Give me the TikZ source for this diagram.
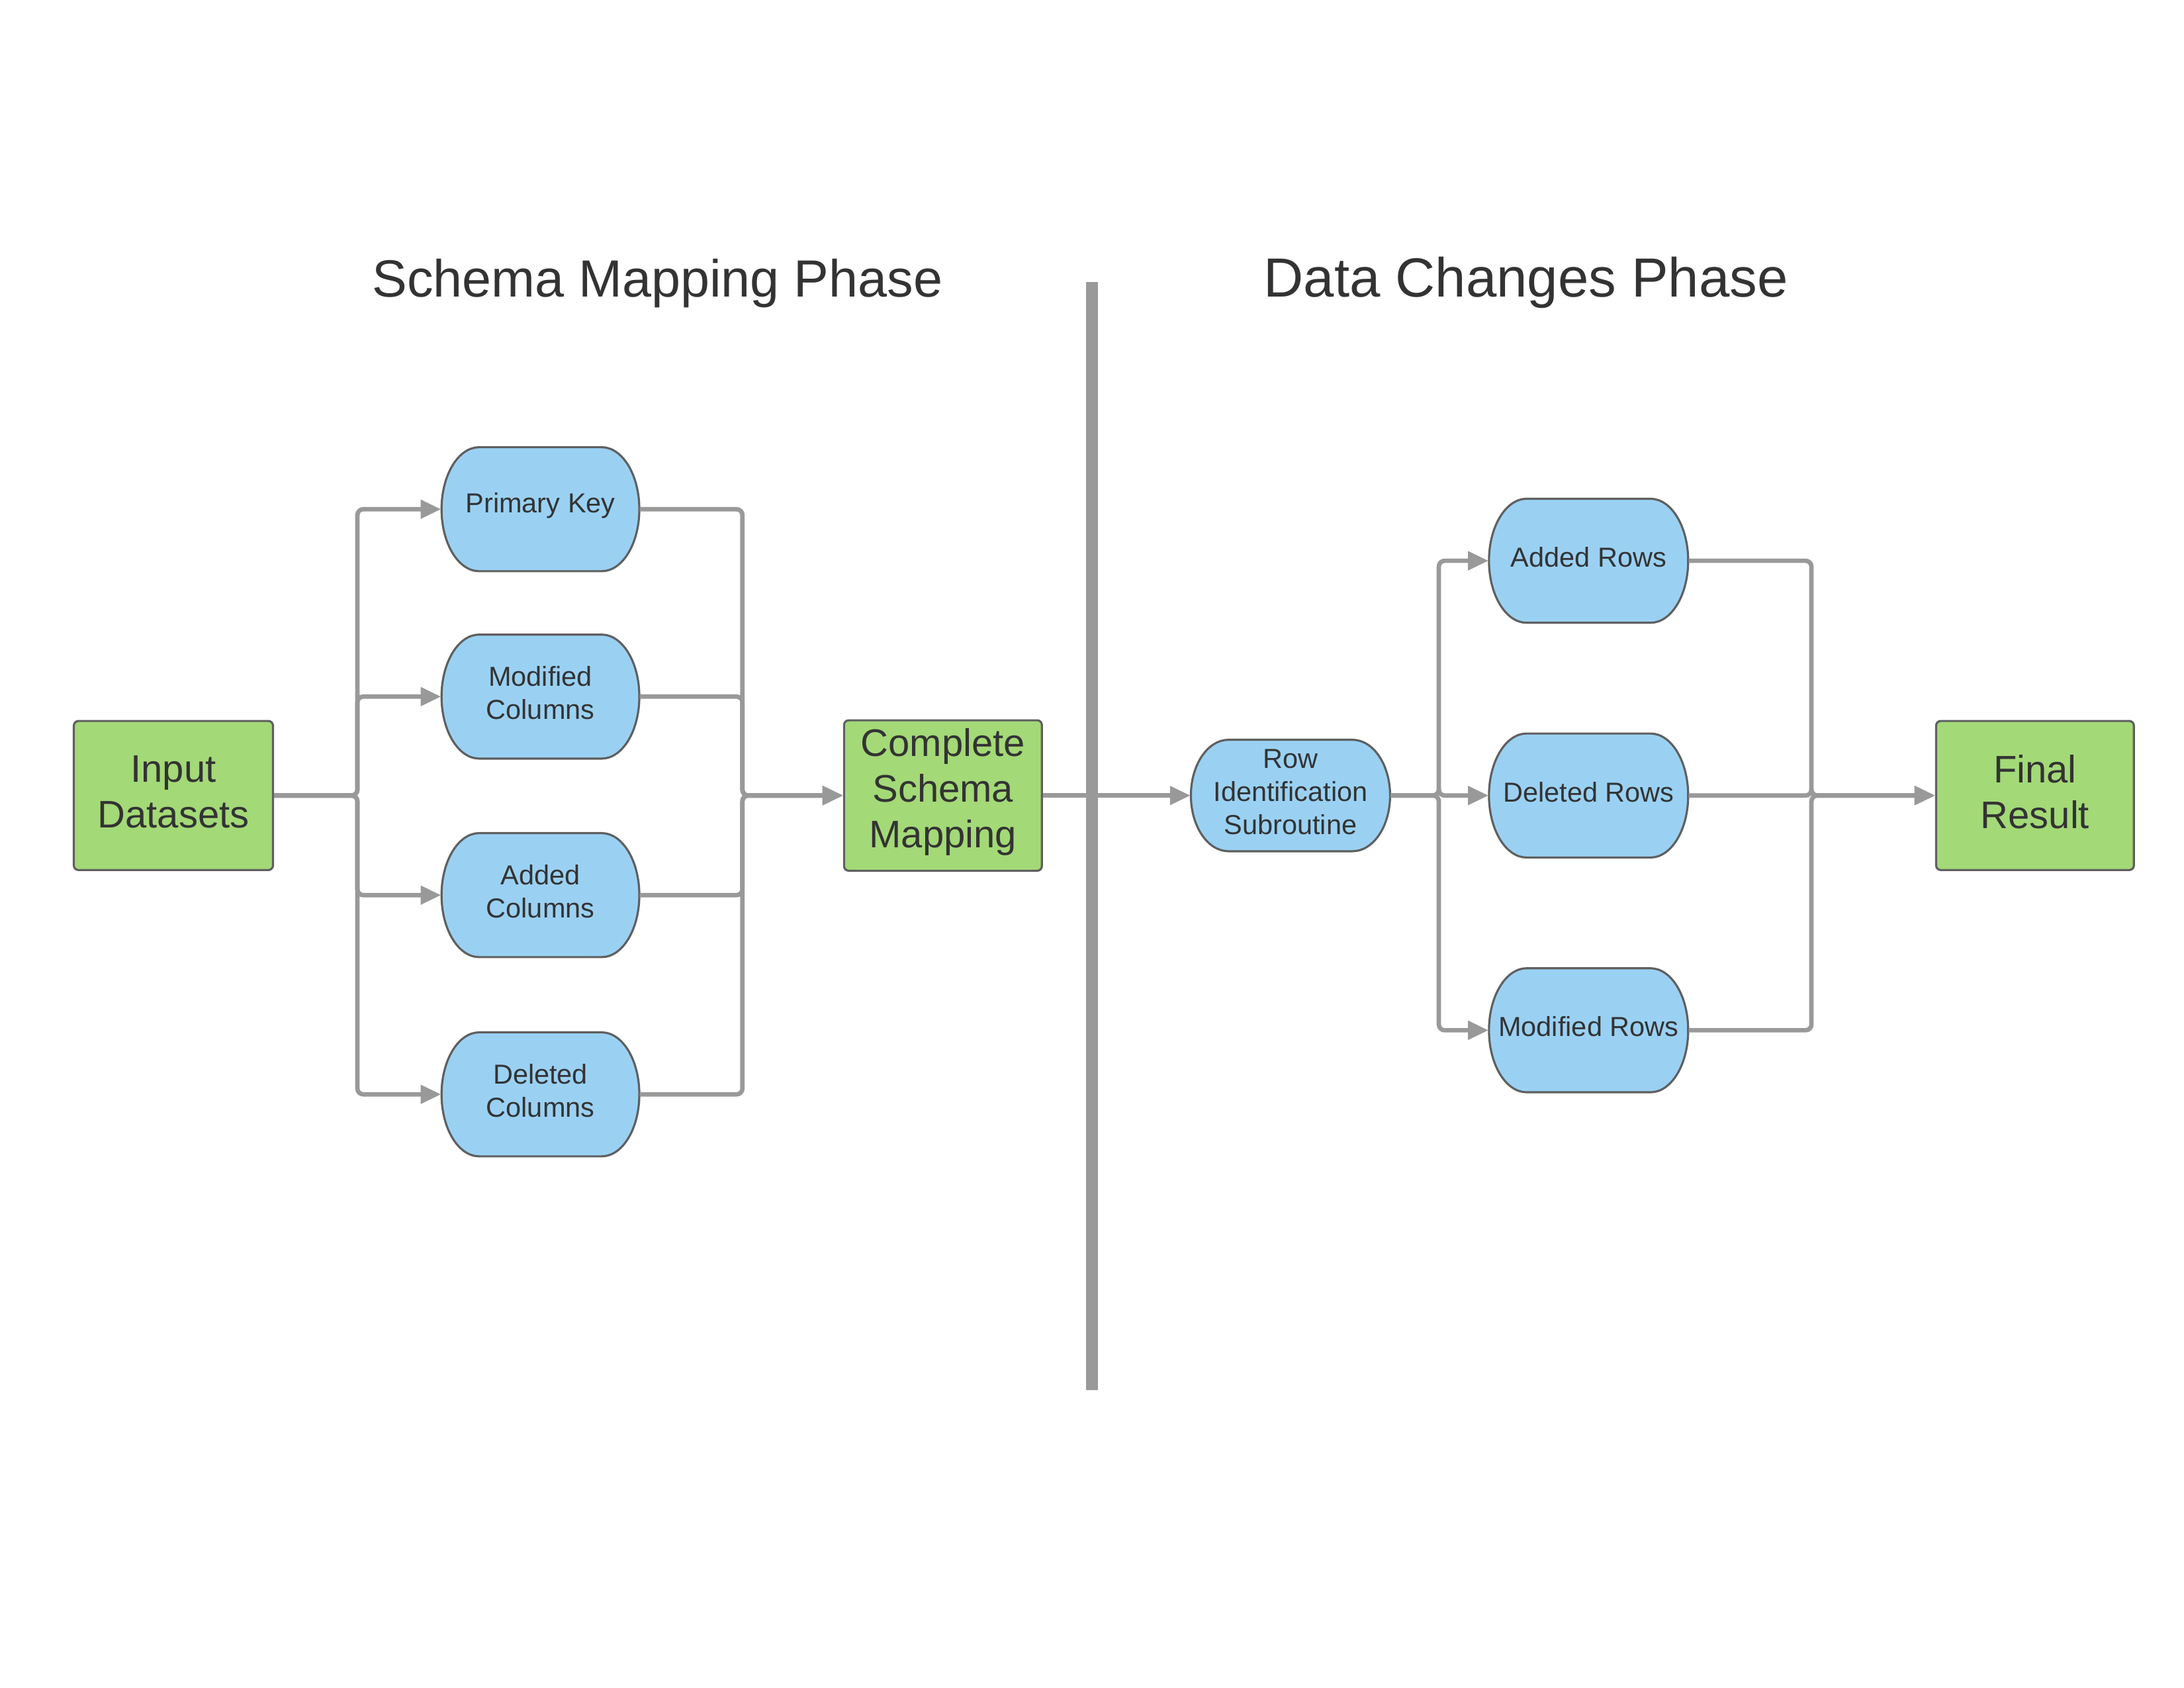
\documentclass[tikz,border=0pt]{standalone}
\usepackage{fontspec}
\setmainfont{Liberation Sans}
\usetikzlibrary{arrows.meta}
\definecolor{gfill}{HTML}{A3D977}
\definecolor{bfill}{HTML}{9AD1F3}
\definecolor{bord}{HTML}{5F5F5F}
\definecolor{conncol}{HTML}{999999}
\definecolor{txt}{HTML}{333333}
\newcommand\uu{0.021046cm}
% name, cx, cy (down positive), half width, half height, text
\newcommand\mkpill[6]{%
  \path[pillshape] ({#2-#4+27},{-(#3)+#5}) -- ({#2+#4-27},{-(#3)+#5})
    arc[start angle=90,end angle=-90,x radius=0.5682cm,y radius={#5*\uu}]
    -- ({#2-#4+27},{-(#3)-#5})
    arc[start angle=270,end angle=90,x radius=0.5682cm,y radius={#5*\uu}] -- cycle;
  \node[anchorbox,minimum width={2*#4*\uu},minimum height={2*#5*\uu}] (#1) at (#2,{-(#3)}) {};
  \node[pilltext] (#1-t) at (#2,{-(#3)+2.5}) {#6};
}
% name, cx, cy, width, height, text
\newcommand\mkgreen[6]{%
  \node[greenbox, minimum width={#4*\uu}, minimum height={#5*\uu}] (#1) at (#2,{-(#3)}) {};
  \node[greentext] (#1-t) at (#2,{-(#3)+2.5}) {#6};
}
\begin{document}
\begin{tikzpicture}[x=0.021046cm,y=0.021046cm,
  greenbox/.style={draw=bord, line width=0.9pt, fill=gfill, rounded corners=2pt, inner sep=0pt},
  greentext/.style={text=txt, align=center, inner sep=0pt, font=\fontsize{16.5}{19.7}\selectfont},
  anchorbox/.style={inner sep=0pt},
  pilltext/.style={inner sep=0pt, text=txt, align=center, font=\fontsize{11.8}{14.2}\selectfont},
  pillshape/.style={draw=bord, line width=0.9pt, fill=bfill},
  connector/.style={draw=conncol, line width=1.9pt, rounded corners=2.5pt},
  arr/.style={-{Triangle[length=8.8pt,width=7.8pt]}},
  title/.style={text=txt, anchor=base, inner sep=0pt},
  divider/.style={draw=conncol, line width=5.1pt}]
\useasboundingbox (0,0) rectangle (1568,-1211.6);

% titles
\node[title, font=\fontsize{22.5}{27}\selectfont] (t1) at (472,-213) {Schema Mapping Phase};
\node[title, font=\fontsize{23.7}{28}\selectfont] (t2) at (1095.5,-213) {Data Changes Phase};

% divider
\coordinate (dtop) at (784,-202.4);
\coordinate (dbot) at (784,-997.8);
\draw[divider] (dtop) -- (dbot);

% green boxes
\mkgreen{in}{124.5}{571}{143}{107}{Input\\Datasets}
\mkgreen{csm}{677}{571}{142}{108}{Complete\\Schema\\Mapping}
\mkgreen{fr}{1461}{571}{142}{107}{Final\\Result}

% blue pills
\mkpill{pk}{388}{365.5}{71}{44.5}{Primary Key}
\mkpill{mc}{388}{500}{71}{44.5}{Modified\\Columns}
\mkpill{ac}{388}{642.5}{71}{44.5}{Added\\Columns}
\mkpill{dc}{388}{785.5}{71}{44.5}{Deleted\\Columns}
\mkpill{rid}{926.5}{571}{71.5}{40}{Row\\Identification\\Subroutine}
\mkpill{ar}{1140.5}{402.5}{71.5}{44.5}{Added Rows}
\mkpill{dr}{1140.5}{571}{71.5}{44.5}{Deleted Rows}
\mkpill{mr}{1140.5}{739.5}{71.5}{44.5}{Modified Rows}

% junction columns
\coordinate (j1) at (256.6,-571);
\coordinate (j2) at (533,-571);
\coordinate (j3) at (1033,-571);
\coordinate (j4) at (1300.5,-571);

% left fan-out
\foreach \t in {pk,mc,ac,dc}{
  \draw[connector,arr] (in.east) -- (j1 |- in.east) -- (j1 |- \t.west) -- (\t.west);
}
% left merge
\foreach \t in {pk,mc,ac,dc}{
  \draw[connector,arr] (\t.east) -- (j2 |- \t.east) -- (j2 |- csm.west) -- (csm.west);
}
% across divider
\draw[connector,arr] (csm.east) -- (rid.west);
% right fan-out
\foreach \t in {ar,dr,mr}{
  \draw[connector,arr] (rid.east) -- (j3 |- rid.east) -- (j3 |- \t.west) -- (\t.west);
}
% right merge
\foreach \t in {ar,dr,mr}{
  \draw[connector,arr] (\t.east) -- (j4 |- \t.east) -- (j4 |- fr.west) -- (fr.west);
}
\end{tikzpicture}
\end{document}
